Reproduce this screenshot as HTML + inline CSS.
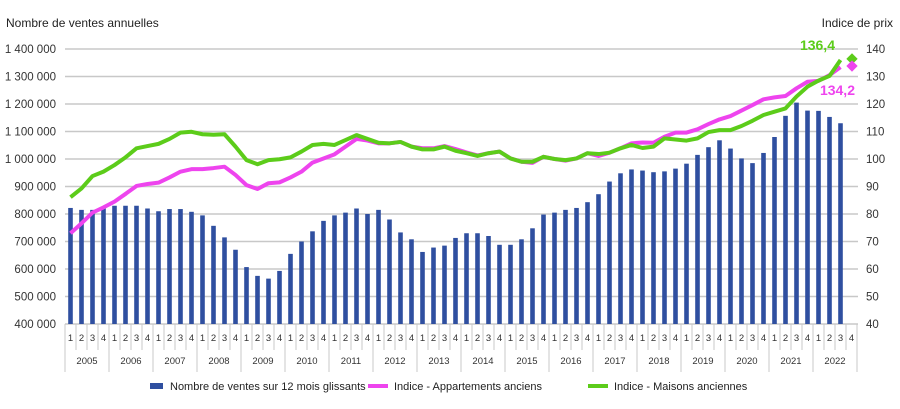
<!DOCTYPE html>
<html><head><meta charset="utf-8"><style>
body{margin:0;background:#fff;width:900px;height:404px;overflow:hidden;font-family:"Liberation Sans",sans-serif}
</style></head><body>
<svg id="s" width="900" height="404" xmlns="http://www.w3.org/2000/svg" font-family="Liberation Sans, sans-serif"></svg>
<script>
const s=document.getElementById('s');let h='';
const X0=65,W=11,Y0=324,K=0.275;
const yL=v=>Y0-(v-400)*K, yR=v=>Y0-(v-40)*2.75, xc=i=>X0+W*(i+0.5);
h+='<text x="6" y="27" font-size="12" fill="#222">Nombre de ventes annuelles</text>';
h+='<text x="893" y="27" font-size="12" fill="#222" text-anchor="end">Indice de prix</text>';
for(let k=0;k<=10;k++){const y=yL(400+k*100);
h+=`<line x1="${X0}" x2="858" y1="${y}" y2="${y}" stroke="#c8c8c8" stroke-width="1.5"/>`;
h+=`<text x="56" y="${y+4}" font-size="11.5" fill="#333" text-anchor="end">${k==10?'1 400 000':(k>=6?'1 '+((k-6)*100).toString().padStart(3,'0')+' 000':(400+k*100)+' 000')}</text>`;
h+=`<text x="866" y="${y+4}" font-size="11.5" fill="#333">${40+k*10}</text>`;}
const bars=[822,815,815,820,830,830,830,820,810,818,818,808,795,757,715,670,607,575,565,593,655,700,737,775,795,805,820,800,815,780,733,708,662,678,685,713,730,730,720,688,688,708,748,798,805,815,822,843,872,918,948,962,958,952,955,965,983,1015,1043,1068,1038,1002,985,1022,1080,1157,1205,1176,1175,1153,1130];
bars.forEach((v,i)=>{h+=`<rect x="${xc(i)-2.3}" y="${yL(v)}" width="4.6" height="${Y0-yL(v)}" fill="#2f4fa0"/>`;});
const pink=[73,76.6,80.5,82.4,84.5,87.3,90.2,90.9,91.4,93.3,95.4,96.3,96.3,96.7,97.2,94.2,90.5,89.1,91.2,91.5,93.3,95.4,98.7,100.2,101.7,104.5,107.3,106.7,105.7,105.7,106.2,104.5,103.9,103.9,104.7,103.6,102.4,101.3,102.1,102.7,100.2,99,98.6,100.8,100,99.4,100.2,102.1,101.1,102.3,103.9,105.7,106,105.9,108.1,109.6,109.6,110.8,112.7,114.4,115.6,117.6,119.6,121.7,122.4,122.9,125.7,128.1,128.4,130.5,133.4];
const green=[86.1,89.3,93.8,95.4,97.8,100.6,103.9,104.7,105.5,107.3,109.6,109.9,109,108.8,109,104.5,99.6,98.1,99.6,99.9,100.6,102.7,105.1,105.5,105.1,106.9,108.7,107.3,105.9,105.7,106.2,104.5,103.5,103.5,104.5,103,102.1,101.1,102.1,102.7,100.2,99,99,100.8,100,99.6,100.2,102.1,101.8,102.3,103.9,105.1,104,104.5,107.5,107.1,106.7,107.5,109.8,110.5,110.5,112,113.9,116,117.2,118.4,122.7,126.3,128.5,130.2,136];
function line(a,c){return `<polyline fill="none" stroke="${c}" stroke-width="4" stroke-linejoin="round" points="${a.map((v,i)=>xc(i)+','+yR(v)).join(' ')}"/>`;}
h+=line(pink,'#ee44ee');h+=line(green,'#5ccc1a');
const dx=xc(71)+0.5;
h+=`<rect x="${dx-4}" y="${yR(136.4)-4}" width="8" height="8" fill="#5ccc1a" transform="rotate(45 ${dx} ${yR(136.4)})"/>`;
h+=`<rect x="${dx-4}" y="${yR(133.8)-4}" width="8" height="8" fill="#ee44ee" transform="rotate(45 ${dx} ${yR(133.8)})"/>`;
h+=`<text x="835" y="50" font-size="14" font-weight="bold" fill="#5ccc1a" text-anchor="end">136,4</text>`;
h+=`<text x="855" y="95" font-size="14" font-weight="bold" fill="#ee44ee" text-anchor="end">134,2</text>`;
for(let i=0;i<=72;i++){const x=X0+W*i;const yr=i%4==0;
h+=`<line x1="${x}" x2="${x}" y1="${Y0}" y2="${yr?372:350}" stroke="#c8c8c8" stroke-width="1"/>`;
if(i<72)h+=`<text x="${x+5.5}" y="341" font-size="9.5" fill="#333" text-anchor="middle">${i%4+1}</text>`;}
for(let y=0;y<18;y++)h+=`<text x="${X0+44*y+22}" y="364" font-size="9.5" fill="#333" text-anchor="middle">${2005+y}</text>`;
h+=`<rect x="150" y="383" width="13" height="6" fill="#2f4fa0"/><text x="170" y="390" font-size="11" fill="#222">Nombre de ventes sur 12 mois glissants</text>`;
h+=`<line x1="368" x2="388" y1="386" y2="386" stroke="#ee44ee" stroke-width="4"/><text x="394" y="390" font-size="11" fill="#222">Indice - Appartements anciens</text>`;
h+=`<line x1="588" x2="608" y1="386" y2="386" stroke="#5ccc1a" stroke-width="4"/><text x="614" y="390" font-size="11" fill="#222">Indice - Maisons anciennes</text>`;
s.innerHTML=h;
</script>
</body></html>
